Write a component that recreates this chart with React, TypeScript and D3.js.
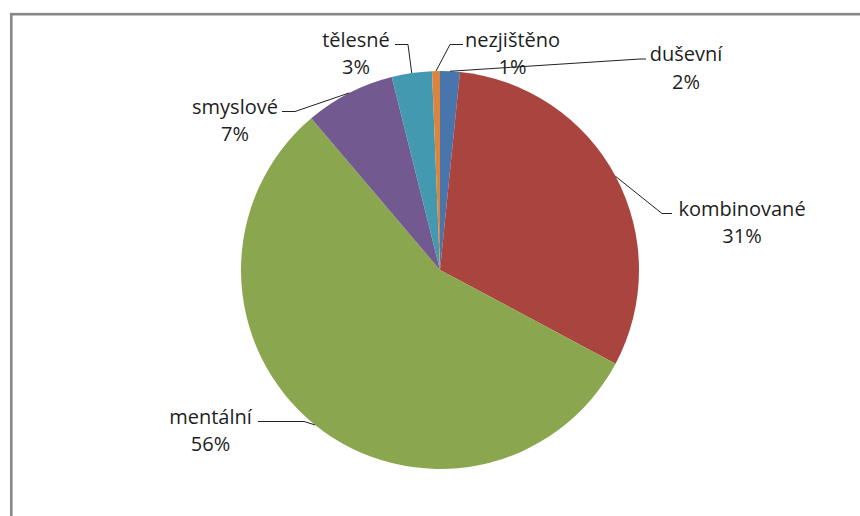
import React from "react";
import * as d3 from "d3";

const categories = ["duševní", "kombinované", "mentální", "smyslové", "tělesné", "nezjištěno"];
const values = [1.6, 31.2, 56.0, 7.3, 3.26, 0.64];
const percentLabels = ["2%", "31%", "56%", "7%", "3%", "1%"];
const colors = ["#4775AC", "#A9443F", "#8AA64F", "#725A90", "#4399B0", "#DB843D"];

// label layout: text centre x, first baseline y, leader start x (next to text), elbow x
const labelLayout = [
  { x: 686, y: 61, lx: 646, ex: 640 },
  { x: 742, y: 215.5, lx: 672, ex: 662 },
  { x: 210.5, y: 423.5, lx: 258, ex: 304 },
  { x: 235, y: 113.5, lx: 282, ex: 295 },
  { x: 356, y: 46.5, lx: 395, ex: 408 },
  { x: 512.5, y: 46.5, lx: 463, ex: 450 },
];

const W = 860;
const H = 516;
const CX = 440;
const CY = 270;
const R = 199;

export default function App() {
  const pie = d3.pie<number>().value((d) => d).sort(null).startAngle(0).endAngle(2 * Math.PI);
  const arcs = pie(values);
  const arcGen = d3.arc<d3.PieArcDatum<number>>().innerRadius(0).outerRadius(R);
  const font = "'Open Sans', 'Liberation Sans', sans-serif";

  return (
    <svg
      width={W}
      height={H}
      style={{ position: "absolute", left: 0, top: 0, background: "#fff" }}
    >
      <rect x={0} y={0} width={W} height={H} fill="#fff" />
      <rect x={11.3} y={14.2} width={W + 20} height={H + 20} fill="none" stroke="#878787" stroke-width={2.6} strokeWidth={2.6} />
      <g transform={`translate(${CX},${CY})`}>
        {arcs.map((a, i) => (
          <path key={i} d={arcGen(a) || ""} fill={colors[i]} />
        ))}
      </g>
      {arcs.map((a, i) => {
        const mid = (a.startAngle + a.endAngle) / 2;
        const ax = CX + Math.sin(mid) * R;
        const ay = CY - Math.cos(mid) * R;
        const L = labelLayout[i];
        const lineY = L.y - 2;
        const pts: [number, number][] = [
          [L.lx, lineY],
          [L.ex, lineY],
          [ax, ay],
        ];
        return (
          <g key={i}>
            <path
              d={d3.line()(pts) || ""}
              fill="none"
              stroke="#222"
              strokeWidth={1}
            />
            <text
              x={L.x}
              y={L.y}
              textAnchor="middle"
              fontFamily={font}
              fontSize={20}
              fill="#1e1e1e"
            >
              {categories[i]}
            </text>
            <text
              x={L.x}
              y={L.y + 27.5}
              textAnchor="middle"
              fontFamily={font}
              fontSize={20}
              fill="#1e1e1e"
            >
              {percentLabels[i]}
            </text>
          </g>
        );
      })}
    </svg>
  );
}
